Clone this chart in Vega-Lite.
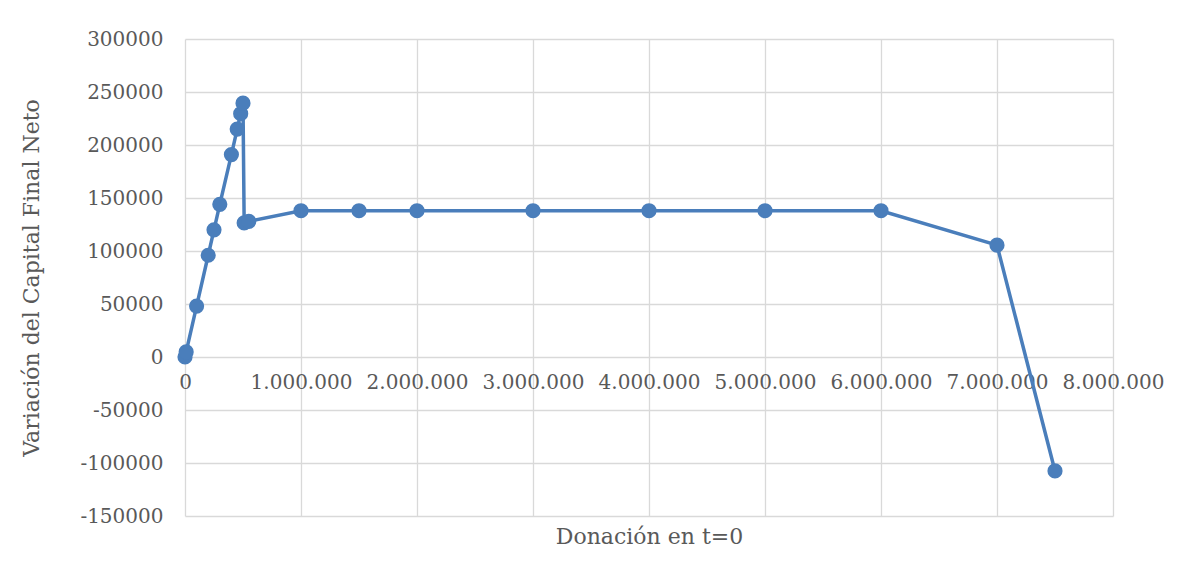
{
  "$schema": "https://vega.github.io/schema/vega-lite/v6.json",
  "width": 928,
  "height": 477,
  "autosize": {"type": "none"},
  "padding": {"left": 185, "top": 39, "right": 79, "bottom": 64},
  "background": "white",
  "config": {
    "font": "DejaVu Serif",
    "view": {"stroke": null},
    "locale": {
      "number": {"decimal": ",", "thousands": ".", "grouping": [3], "currency": ["", ""], "minus": "-"}
    },
    "axis": {
      "gridColor": "#D9D9D9",
      "gridWidth": 1.3,
      "domain": false,
      "ticks": false,
      "labelFont": "DejaVu Serif",
      "labelFontSize": 20,
      "labelColor": "#595959",
      "titleFont": "DejaVu Serif",
      "titleFontSize": 22,
      "titleFontWeight": "normal",
      "titleColor": "#595959"
    }
  },
  "data": {
    "values": [
      {"donacion": 0, "variacion": 0},
      {"donacion": 10000, "variacion": 4800},
      {"donacion": 100000, "variacion": 48000},
      {"donacion": 200000, "variacion": 96000},
      {"donacion": 250000, "variacion": 120000},
      {"donacion": 300000, "variacion": 144000},
      {"donacion": 400000, "variacion": 191000},
      {"donacion": 450000, "variacion": 215000},
      {"donacion": 480000, "variacion": 229500},
      {"donacion": 500000, "variacion": 239500},
      {"donacion": 510000, "variacion": 126500},
      {"donacion": 550000, "variacion": 128000},
      {"donacion": 1000000, "variacion": 138000},
      {"donacion": 1500000, "variacion": 138000},
      {"donacion": 2000000, "variacion": 138000},
      {"donacion": 3000000, "variacion": 138000},
      {"donacion": 4000000, "variacion": 138000},
      {"donacion": 5000000, "variacion": 138000},
      {"donacion": 6000000, "variacion": 138000},
      {"donacion": 7000000, "variacion": 105500},
      {"donacion": 7500000, "variacion": -107500}
    ]
  },
  "encoding": {
    "x": {
      "field": "donacion",
      "type": "quantitative",
      "scale": {"domain": [0, 8000000], "nice": false, "zero": false},
      "axis": {
        "title": "Donación en t=0",
        "values": [0, 1000000, 2000000, 3000000, 4000000, 5000000, 6000000, 7000000, 8000000],
        "format": ",d",
        "offset": -159,
        "labelPadding": 15,
        "titlePadding": 134,
        "labelFlush": false,
        "labelOverlap": false
      }
    },
    "y": {
      "field": "variacion",
      "type": "quantitative",
      "scale": {"domain": [-150000, 300000], "nice": false, "zero": false},
      "axis": {
        "title": "Variación del Capital Final Neto",
        "values": [-150000, -100000, -50000, 0, 50000, 100000, 150000, 200000, 250000, 300000],
        "format": "d",
        "labelPadding": 22,
        "titlePadding": 36,
        "labelFlush": false,
        "labelOverlap": false
      }
    }
  },
  "layer": [
    {"mark": {"type": "line", "color": "#4A7EBB", "strokeWidth": 3.5}},
    {"mark": {"type": "point", "filled": true, "opacity": 1, "color": "#4A7EBB", "size": 230}}
  ]
}
